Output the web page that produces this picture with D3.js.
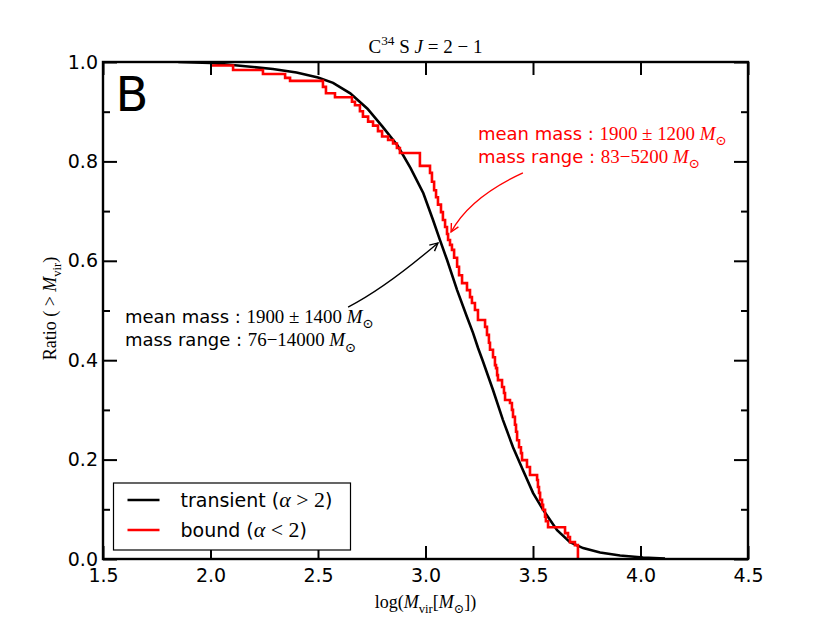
<!DOCTYPE html>
<html>
<head>
<meta charset="utf-8">
<script src="https://cdn.jsdelivr.net/npm/d3@7"></script>
<style>
  body { margin: 0; background: #fff; }
  text { white-space: pre; }
</style>
</head>
<body>
<div id="chart-container"></div>
<script>
// transient clumps (alpha > 2), cumulative ratio above a given log mass
const transientLogM = [1.85, 2.00, 2.15, 2.29, 2.40, 2.50, 2.57, 2.65, 2.73, 2.80, 2.87, 2.93, 2.99,
  3.035, 3.067, 3.10, 3.147, 3.193, 3.221, 3.244, 3.267, 3.314, 3.36, 3.407, 3.453, 3.50,
  3.547, 3.612, 3.672, 3.733, 3.812, 3.905, 4.012, 4.114];
const transientRatio = [1.0, 0.998, 0.992, 0.986, 0.979, 0.969, 0.958, 0.937, 0.906, 0.870, 0.832, 0.787, 0.736,
  0.682, 0.642, 0.602, 0.541, 0.487, 0.455, 0.425, 0.398, 0.340, 0.280, 0.225, 0.179, 0.133,
  0.099, 0.058, 0.034, 0.022, 0.013, 0.007, 0.003, 0.001];

// bound clumps (alpha < 2), step values
const boundLogM = [1.998, 2.105, 2.244, 2.347, 2.370, 2.523, 2.537, 2.579, 2.658, 2.672, 2.695, 2.709,
  2.733, 2.756, 2.779, 2.798, 2.826, 2.849, 2.867, 2.881, 2.974, 3.021, 3.030, 3.040, 3.049,
  3.058, 3.072, 3.081, 3.091, 3.100, 3.105, 3.114, 3.123, 3.133, 3.147, 3.156, 3.170, 3.193,
  3.207, 3.216, 3.230, 3.244, 3.277, 3.286, 3.295, 3.300, 3.314, 3.323, 3.328, 3.333, 3.337,
  3.356, 3.365, 3.370, 3.393, 3.402, 3.407, 3.416, 3.421, 3.426, 3.435, 3.444, 3.449, 3.472,
  3.486, 3.519, 3.523, 3.528, 3.533, 3.542, 3.547, 3.556, 3.560, 3.570, 3.649, 3.663, 3.672,
  3.695, 3.709];
const boundRatio = [0.993, 0.984, 0.976, 0.968, 0.962, 0.950, 0.937, 0.929, 0.920, 0.913, 0.901, 0.890,
  0.880, 0.872, 0.861, 0.850, 0.843, 0.836, 0.827, 0.817, 0.791, 0.777, 0.759, 0.742, 0.728,
  0.713, 0.698, 0.682, 0.668, 0.654, 0.642, 0.632, 0.622, 0.606, 0.588, 0.571, 0.555, 0.541,
  0.527, 0.515, 0.501, 0.481, 0.467, 0.451, 0.435, 0.421, 0.406, 0.390, 0.384, 0.370, 0.360,
  0.346, 0.334, 0.320, 0.314, 0.300, 0.286, 0.270, 0.256, 0.239, 0.225, 0.213, 0.199, 0.185,
  0.169, 0.159, 0.145, 0.133, 0.119, 0.109, 0.099, 0.085, 0.076, 0.064, 0.052, 0.044, 0.034,
  0.028, 0.0];

const xTickValues = [1.5, 2.0, 2.5, 3.0, 3.5, 4.0, 4.5];
const yTickValues = [0.0, 0.2, 0.4, 0.6, 0.8, 1.0];
const yMinorValues = [0.1, 0.3, 0.5, 0.7, 0.9];

const margin = { top: 62, right: 82, bottom: 64, left: 103 };
const width = 830 - margin.left - margin.right;
const height = 623 - margin.top - margin.bottom;

const sans = "'DejaVu Sans', sans-serif";
const serif = "'Liberation Serif', 'DejaVu Serif', serif";

var svg = d3.select("#chart-container")
    .append("svg")
    .attr("width", 830)
    .attr("height", 623)
    .append("g")
    .attr("transform", `translate(${margin.left}, ${margin.top})`);

var xScale = d3.scaleLinear().domain([1.5, 4.5]).range([0, width]);
var yScale = d3.scaleLinear().domain([0, 1]).range([height, 0]);

// rich text: parts are [string, kind], kind = sf | rm | it | sub | sup
// serif parts are drawn a little larger (mk) to get close to Computer Modern widths
function mathText(g, x, y, size, parts, anchor, color, mk) {
    mk = mk || 1;
    const t = g.append("text")
        .attr("x", x)
        .attr("y", y)
        .attr("text-anchor", anchor || "start")
        .attr("fill", color || "black")
        .style("font-size", size + "px");
    let cur = 0;
    parts.forEach(([str, kind]) => {
        let off = 0, fs = size * mk, fam = serif, st = "normal";
        if (kind === "sf") { fam = sans; fs = size; }
        if (kind === "it") st = "italic";
        if (kind === "sub") { off = 0.3 * size; fs = 0.7 * size * mk; }
        if (kind === "sup") { off = -0.42 * size; fs = 0.7 * size * mk; }
        if (str === "⊙") fam = "'DejaVu Serif', serif";
        t.append("tspan")
            .attr("dy", off - cur)
            .style("font-family", fam)
            .style("font-style", st)
            .style("font-size", fs + "px")
            .text(str);
        cur = off;
    });
    return t;
}

// clip
svg.append("defs").append("clipPath")
    .attr("id", "chart-clip")
    .append("rect")
    .attr("width", width)
    .attr("height", height);

var chartArea = svg.append("g").attr("clip-path", "url(#chart-clip)");

var transientLine = d3.line()
    .x((d, i) => xScale(transientLogM[i]))
    .y((d, i) => yScale(transientRatio[i]));

var boundLine = d3.line()
    .curve(d3.curveStepAfter)
    .x((d, i) => xScale(boundLogM[i]))
    .y((d, i) => yScale(boundRatio[i]));

chartArea.append("path")
    .datum(transientLogM)
    .attr("fill", "none")
    .style("stroke", "black")
    .attr("stroke-width", 2.6)
    .attr("d", transientLine);

chartArea.append("path")
    .datum(boundLogM)
    .attr("fill", "none")
    .style("stroke", "red")
    .attr("stroke-width", 2.6)
    .attr("d", boundLine);

// ticks (inward, all four sides)
function styleAxis(g) {
    g.select(".domain").remove();
    g.selectAll(".tick line").attr("stroke", "black").attr("stroke-width", 2);
    g.selectAll(".tick text").style("font-family", sans).style("font-size", "19px").attr("fill", "black");
}

svg.append("g")
    .attr("transform", `translate(0, ${height})`)
    .call(d3.axisBottom(xScale).tickValues(xTickValues).tickSize(-13).tickPadding(10).tickFormat(d3.format(".1f")))
    .call(styleAxis);

svg.append("g")
    .call(d3.axisTop(xScale).tickValues(xTickValues).tickSize(-13).tickFormat(""))
    .call(styleAxis);

svg.append("g")
    .call(d3.axisLeft(yScale).tickValues(yTickValues).tickSize(-14).tickPadding(5).tickFormat(d3.format(".1f")))
    .call(styleAxis);

svg.append("g")
    .call(d3.axisLeft(yScale).tickValues(yMinorValues).tickSize(-7).tickFormat(""))
    .call(styleAxis);

svg.append("g")
    .attr("transform", `translate(${width}, 0)`)
    .call(d3.axisRight(yScale).tickValues(yTickValues).tickSize(-14).tickFormat(""))
    .call(styleAxis);

svg.append("g")
    .attr("transform", `translate(${width}, 0)`)
    .call(d3.axisRight(yScale).tickValues(yMinorValues).tickSize(-7).tickFormat(""))
    .call(styleAxis);

// frame
svg.append("rect")
    .attr("width", width)
    .attr("height", height)
    .attr("fill", "none")
    .attr("stroke", "black")
    .attr("stroke-width", 2.4);

// panel letter
svg.append("text")
    .attr("x", xScale(1.558))
    .attr("y", yScale(0.902))
    .style("font-family", sans)
    .style("font-size", "48px")
    .text("B");

// title
mathText(svg, width / 2, -9, 19,
    [["C", "rm"], ["34", "sup"], [" S ", "rm"], ["J", "it"], [" = 2 − 1", "rm"]], "middle");

// axis labels
mathText(svg, width / 2, height + 49, 18,
    [["log(", "rm"], ["M", "it"], ["vir", "sub"], ["[", "rm"], ["M", "it"], ["⊙", "sub"], ["])", "rm"]], "middle");

var yLab = svg.append("g").attr("transform", `translate(-47, ${height / 2 - 2}) rotate(-90)`);
mathText(yLab, 0, 0, 18,
    [["Ratio (", "rm"], [" > ", "rm"], ["M", "it"], ["vir", "sub"], [")", "rm"]], "middle");

// annotations
var markers = svg.append("defs");
[["arrow-red", "red"], ["arrow-black", "black"]].forEach(([id, c]) => {
    markers.append("marker")
        .attr("id", id)
        .attr("viewBox", "-10 -6 12 12")
        .attr("refX", 0)
        .attr("refY", 0)
        .attr("markerWidth", 12)
        .attr("markerHeight", 12)
        .attr("markerUnits", "userSpaceOnUse")
        .attr("orient", "auto")
        .append("path")
        .attr("d", "M-8,-4 L0,0 L-8,4")
        .attr("fill", "none")
        .attr("stroke", c)
        .attr("stroke-width", 1.4);
});

function curvedArrow(from, ctrl, to, color, id) {
    svg.append("path")
        .attr("d", `M${xScale(from[0])},${yScale(from[1])} Q${xScale(ctrl[0])},${yScale(ctrl[1])} ${xScale(to[0])},${yScale(to[1])}`)
        .attr("fill", "none")
        .attr("stroke", color)
        .attr("stroke-width", 1.4)
        .attr("marker-end", `url(#${id})`);
}

curvedArrow([3.453, 0.777], [3.207, 0.728], [3.119, 0.658], "red", "arrow-red");
curvedArrow([2.640, 0.507], [2.812, 0.545], [3.058, 0.636], "black", "arrow-black");

mathText(svg, xScale(3.244), yScale(0.843), 18,
    [["mean mass : ", "sf"], ["1900 ± 1200 ", "rm"], ["M", "it"], ["⊙", "sub"]], "start", "red", 1.05);
mathText(svg, xScale(3.244), yScale(0.797), 18,
    [["mass range : ", "sf"], ["83−5200 ", "rm"], ["M", "it"], ["⊙", "sub"]], "start", "red", 1.05);

mathText(svg, xScale(1.602), yScale(0.475), 18,
    [["mean mass : ", "sf"], ["1900 ± 1400 ", "rm"], ["M", "it"], ["⊙", "sub"]], "start", "black", 1.05);
mathText(svg, xScale(1.602), yScale(0.428), 18,
    [["mass range : ", "sf"], ["76−14000 ", "rm"], ["M", "it"], ["⊙", "sub"]], "start", "black", 1.05);

// legend
var legend = svg.append("g").attr("transform", "translate(10.5, 421)");
legend.append("rect")
    .attr("width", 237)
    .attr("height", 67)
    .attr("fill", "white")
    .attr("stroke", "black")
    .attr("stroke-width", 1.2);

[["transient", "black", "α", " > 2"], ["bound", "red", "α", " < 2"]].forEach(([name, c, a, rel], i) => {
    const yy = 17 + i * 30;
    legend.append("line")
        .attr("x1", 14).attr("x2", 46)
        .attr("y1", yy).attr("y2", yy)
        .attr("stroke", c)
        .attr("stroke-width", 2.6);
    mathText(legend, 67, yy + 7, 19,
        [[name + " (", "sf"], [a, "it"], [rel, "rm"], [")", "sf"]], "start", "black", 1.15);
});
</script>
</body>
</html>
